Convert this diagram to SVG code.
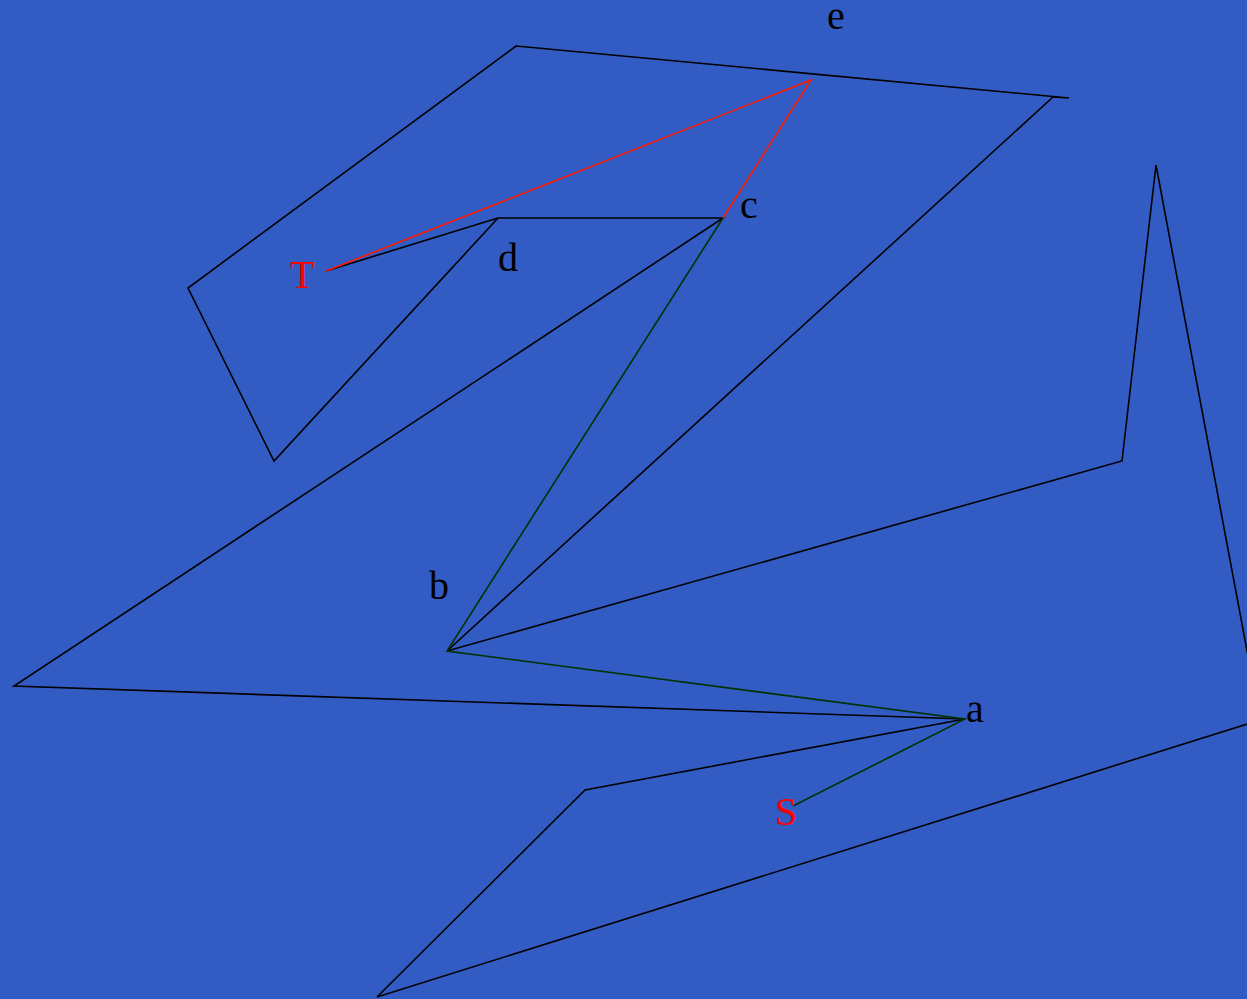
<svg xmlns="http://www.w3.org/2000/svg" width="1247" height="999" viewBox="0 0 1247 999">
<style>
.lbl{font-family:"Liberation Serif","Times New Roman",serif;font-size:40px;fill:#000}
.red{fill:#ff0000}
.blk{fill:none;stroke:#000;stroke-width:1.6}
.grn{fill:none;stroke:#003300;stroke-width:1.6}
.rd{fill:none;stroke:#ff1a00;stroke-width:1.6}
</style>
<rect width="1247" height="999" fill="#325cc4"/>
<g id="connectors">
<polygon class="blk" points="516,46 1069,98 1053,97 447,651 1122,461 1156,165 1260,720 377,997 585,790 965,719 14,686 723,218 498,218 274,461 188,288"/>
<line class="blk" x1="326" y1="271" x2="498" y2="218"/>
<polyline class="rd" points="326,271 811,80 723,218"/>
<polyline class="grn" points="723,218 447,651 965,719 793,806"/>
</g>
<g id="node-e"><text class="lbl" x="827" y="29">e</text></g>
<g id="node-c"><text class="lbl" x="740" y="218">c</text></g>
<g id="node-d"><text class="lbl" x="498" y="271">d</text></g>
<g id="node-T"><text class="lbl red" x="290" y="288">T</text></g>
<g id="node-b"><text class="lbl" x="429" y="599">b</text></g>
<g id="node-a"><text class="lbl" x="966" y="722">a</text></g>
<g id="node-S"><text class="lbl red" x="775" y="825">S</text></g>
</svg>
